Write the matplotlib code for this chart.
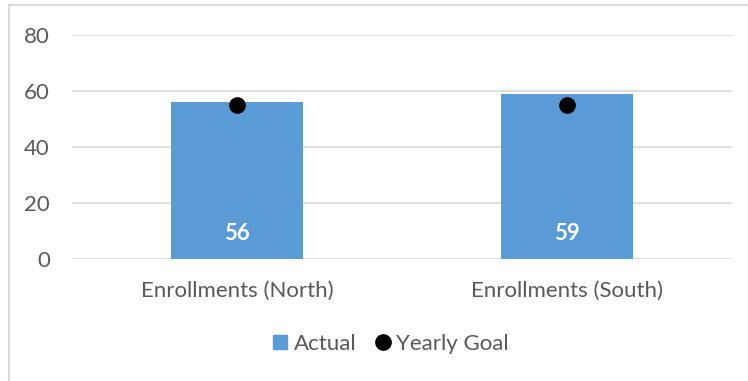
import matplotlib.pyplot as plt
from matplotlib.lines import Line2D
import numpy as np

categories = ["Enrollments (North)", "Enrollments (South)"]
actual = [56, 59]
yearly_goal = [55, 55]

plt.rcParams['font.family'] = ['Lato', 'DejaVu Sans']

fig = plt.figure(figsize=(7.48, 3.81), dpi=100)
W, H = 748, 381
ax = fig.add_axes([72 / W, (H - 259) / H, (732 - 72) / W, (259 - 35) / H])

x = np.arange(len(categories))
ax.bar(x, actual, width=0.4, color='#5B9BD5', zorder=2, label='Actual')
ax.plot(x, yearly_goal, 'o', color='black', markersize=11, zorder=3, label='Yearly Goal')

# value labels inside the base of the bars
for xi, v in zip(x, actual):
    ax.annotate(str(v), xy=(xi, 0), xytext=(0, 18), textcoords='offset points',
                ha='center', va='center', color='white', fontsize=16, fontweight='bold')

ax.set_xlim(-0.5, len(categories) - 0.5)
ax.set_ylim(0, 80)
ax.set_yticks([0, 20, 40, 60, 80])
ax.set_xticks(x)
ax.set_xticklabels(categories)
ax.grid(axis='y', color='#d9d9d9', linewidth=1.2, zorder=0)
ax.set_axisbelow(True)
for s in ax.spines.values():
    s.set_visible(False)
ax.tick_params(axis='both', length=0, labelsize=16, colors='#595959')
ax.tick_params(axis='x', pad=16)
ax.tick_params(axis='y', pad=16)

handles = [
    Line2D([], [], marker='s', linestyle='none', color='#5B9BD5', markersize=10),
    Line2D([], [], marker='o', linestyle='none', color='black', markersize=11),
]
fig.legend(handles, ['Actual', 'Yearly Goal'], loc='center', bbox_to_anchor=(389 / W, (H - 344) / H),
           ncol=2, frameon=False, fontsize=16, labelcolor='#595959',
           handletextpad=0.1, columnspacing=0.7, handlelength=1.0)

# light frame lines (left and top) as in the reference
fig.add_artist(Line2D([8.5 / W, 8.5 / W], [0, (H - 5) / H], transform=fig.transFigure, color='#d9d9d9', linewidth=1.5))
fig.add_artist(Line2D([8.5 / W, 1], [(H - 5) / H, (H - 5) / H], transform=fig.transFigure, color='#d9d9d9', linewidth=1.5))

fig.savefig('out.png', dpi=100)
